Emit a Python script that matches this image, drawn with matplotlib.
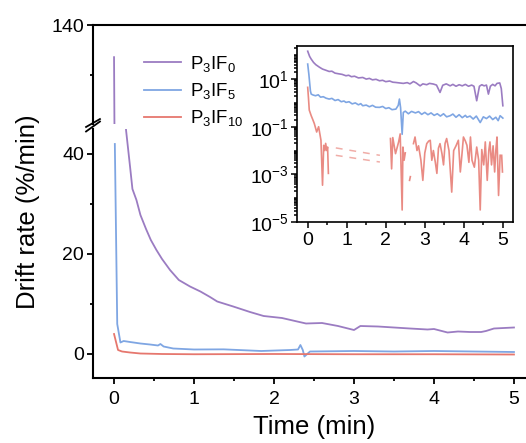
import matplotlib
matplotlib.use('Agg')
import matplotlib.pyplot as plt
import numpy as np
from matplotlib.ticker import MultipleLocator, LogLocator, NullFormatter, FixedLocator

plt.rcParams['font.family'] = ['Liberation Sans', 'DejaVu Sans']
plt.rcParams['mathtext.fontset'] = 'custom'
plt.rcParams['mathtext.rm'] = 'Liberation Sans'
plt.rcParams['mathtext.it'] = 'Liberation Sans:italic'
plt.rcParams['mathtext.default'] = 'regular'

labels = [r'P$_3$IF$_0$', r'P$_3$IF$_5$', r'P$_3$IF$_{10}$']
colors = ['#9b7cc2', '#7fa6e3', '#e6776e']

# main panel (linear, broken axis)
t_p0 = [0.0, 0.005, 0.15, 0.2, 0.23, 0.28, 0.33, 0.4, 0.46, 0.53, 0.6, 0.7, 0.81, 0.95, 1.08,
        1.2, 1.29, 1.49, 1.7, 1.87, 2.1, 2.29, 2.4, 2.6, 2.8, 3.0, 3.08, 3.3, 3.5, 3.7, 3.92,
        4.0, 4.17, 4.3, 4.45, 4.59, 4.65, 4.75, 5.0]
p0 = [127, 100, 44.8, 37.5, 33, 30.8, 27.8, 25.0, 22.8, 20.8, 19.0, 16.8, 14.8, 13.5, 12.5,
      11.4, 10.5, 9.5, 8.4, 7.6, 7.2, 6.5, 6.1, 6.2, 5.6, 4.8, 5.6, 5.5, 5.3, 5.1, 4.9,
      5.0, 4.3, 4.5, 4.4, 4.4, 4.6, 5.1, 5.3]
t_p5 = [0.01, 0.04, 0.08, 0.12, 0.2, 0.33, 0.45, 0.55, 0.58, 0.62, 0.74, 1.0, 1.37, 1.84, 2.2,
        2.3, 2.33, 2.36, 2.38, 2.45, 3.0, 3.5, 4.0, 4.5, 5.0]
p5 = [42, 6, 2.3, 2.6, 2.4, 2.1, 1.9, 1.7, 2.0, 1.5, 1.1, 0.9, 0.93, 0.6, 0.8,
      0.9, 1.8, 0.8, -0.5, 0.5, 0.6, 0.5, 0.6, 0.5, 0.4]
t_p10 = [0.0, 0.05, 0.1, 0.2, 0.33, 0.6, 1.0, 2.0, 3.0, 4.0, 5.0]
p10 = [4.0, 0.8, 0.5, 0.3, 0.1, 0.0, -0.05, 0.0, -0.05, -0.05, -0.1]

# inset (log scale)
in_t_p0 = [0.0, 0.05, 0.09, 0.15, 0.21, 0.3, 0.38, 0.45, 0.55, 0.62, 0.7, 0.8, 0.88, 0.98, 1.05,
           1.12, 1.2, 1.3, 1.41, 1.5, 1.58, 1.66, 1.75, 1.84, 1.92, 2.0, 2.1, 2.18, 2.26, 2.35,
           2.45, 2.55, 2.62, 2.71, 2.78, 2.88, 2.95, 3.05, 3.12, 3.22, 3.3, 3.39, 3.46, 3.55,
           3.65, 3.72, 3.8, 3.88, 3.96, 4.04, 4.12, 4.2, 4.26, 4.33, 4.4, 4.46, 4.52, 4.58,
           4.63, 4.68, 4.74, 4.8, 4.85, 4.92, 4.96, 5.0]
in_p0 = [148, 89, 69, 50, 40, 31.6, 26.3, 24, 20.9, 21.4, 17.8, 16.6, 15.8, 13.8, 14.5,
         12.6, 13.2, 11.2, 11.7, 10, 10.7, 9.3, 9.8, 8.5, 8.9, 7.8, 8.3, 7.4, 7.2, 6.9,
         6.6, 7.1, 6.3, 7.9, 6.9, 5.2, 6.3, 5.8, 6.6, 6.2, 5.6, 2.75, 5.5, 6.3,
         5.2, 6.0, 5.0, 5.8, 5.2, 6.0, 5.0, 5.6, 5.0, 1.23, 5.0, 5.8, 5.2, 5.6,
         2.34, 5.0, 6.0, 5.2, 6.6, 6.9, 4.0, 0.76]
in_t_p5 = [0.0, 0.03, 0.07, 0.09, 0.14, 0.2, 0.27, 0.33, 0.4, 0.47, 0.55, 0.62, 0.7, 0.78, 0.86,
           0.93, 0.98, 1.06, 1.14, 1.22, 1.3, 1.36, 1.41, 1.5, 1.58, 1.66, 1.74, 1.84, 1.92,
           2.0, 2.08, 2.16, 2.26, 2.32, 2.35, 2.38, 2.42, 2.45, 2.5, 2.58, 2.66, 2.76, 2.84,
           2.92, 3.0, 3.08, 3.16, 3.24, 3.32, 3.4, 3.48, 3.56, 3.65, 3.72, 3.8, 3.88, 3.96,
           4.04, 4.08, 4.16, 4.24, 4.32, 4.42, 4.5, 4.58, 4.66, 4.74, 4.82, 4.88, 4.93, 5.0]
in_p5 = [42.7, 15.8, 3.16, 2.34, 2.14, 2.0, 2.19, 1.74, 1.82, 1.58, 1.45, 1.55, 1.26, 1.38, 1.12,
         1.2, 1.05, 1.12, 0.91, 1.0, 0.83, 0.93, 0.76, 0.81, 0.69, 0.79, 0.66, 0.65, 0.71,
         0.58, 0.63, 0.52, 0.55, 0.79, 1.45, 0.63, 0.048, 0.4, 0.45, 0.35, 0.44, 0.38, 0.43,
         0.33, 0.4, 0.32, 0.38, 0.30, 0.35, 0.28, 0.35, 0.26, 0.29, 0.34, 0.25, 0.32, 0.24,
         0.30, 0.25, 0.28, 0.21, 0.28, 0.15, 0.26, 0.22, 0.28, 0.2, 0.25, 0.18, 0.29, 0.23]
# nan marks missing (non-positive) points
in_t_p10 = [0.0, 0.02, 0.04, 0.09, 0.13, 0.17, 0.23, 0.28, 0.34, 0.38, 0.41, 0.44, 0.46, 0.49,
            0.51, 0.53, 0.54,
            2.12, 2.15, 2.18, 2.25, 2.33, 2.37, 2.42, 2.44, 2.47, 2.5, 2.52,
            2.61, 2.63, 2.65,
            2.71, 2.75, 2.8, 2.84, 2.9, 2.95, 3.0, 3.05, 3.1, 3.14, 3.18, 3.22, 3.27, 3.31,
            3.35, 3.39, 3.44, 3.48, 3.52, 3.56, 3.62, 3.69, 3.74, 3.8, 3.86, 3.91, 3.95, 3.99,
            4.04, 4.08, 4.13, 4.17, 4.21, 4.27, 4.33, 4.38, 4.42, 4.46, 4.51, 4.55, 4.6, 4.64,
            4.67, 4.71, 4.75, 4.79, 4.82, 4.85, 4.89, 4.93, 4.95,
            4.97, 4.99]
in_p10 = [4.5, 1.6, 0.5, 0.29, 0.2, 0.135, 0.06, 0.1, 0.027, 3.5e-4, 0.0166, 0.01, 0.02, 0.01,
          0.014, 0.0011, np.nan,
          0.032, 0.0017, 0.035, 0.0074, 0.023, 0.05, 3.2e-5, 0.014, 0.0039, 0.008, np.nan,
          5.6e-4, 8e-4, np.nan,
          0.0195, 0.037, 0.01, 0.0158, 0.004, 5.6e-4, 0.0079, 0.0195, 0.025, 0.027, 0.0039, 0.01, 0.0032, 0.0011,
          0.0126, 0.0195, 0.0074, 0.0025, 0.02, 0.032, 0.01, 1.8e-4, 0.01, 0.0158, 0.027, 0.00126, 0.0063, 0.037,
          0.025, 0.0166, 0.0032, 0.037, 0.0039, 0.002, 0.014, 0.004, 3.2e-5, 0.011, 0.0025, 0.023, 5.6e-4, 0.01,
          0.023, 0.0025, 0.0158, 0.00126, 0.01, 0.037, 1.3e-4, 0.0063, np.nan,
          0.0063, 0.00126]
gap_t = [0.72, 1.85]
gap_hi = [0.0129, 0.0063]
gap_lo = [0.0063, 0.0033]

W, H = 526, 443
def box(x0, y0, x1, y1):
    return [x0 / W, 1 - y1 / H, (x1 - x0) / W, (y1 - y0) / H]

fig = plt.figure(figsize=(5.26, 4.43), dpi=100)
ax_top = fig.add_axes(box(93, 25, 527, 124))
ax_bot = fig.add_axes(box(93, 129, 527, 378))

lines = []
for ax in [ax_top, ax_bot]:
    l0, = ax.plot(t_p0, p0, color=colors[0], lw=1.3)
    l1, = ax.plot(t_p5, p5, color=colors[1], lw=1.3)
    l2, = ax.plot(t_p10, p10, color=colors[2], lw=1.3)
    lines = [l0, l1, l2]
    ax.set_xlim(-0.263, 5.163)
    for s in ax.spines.values():
        s.set_linewidth(1.5)
    ax.spines['right'].set_visible(False)
    ax.tick_params(which='both', direction='out', width=1.3, labelsize=14)
    ax.tick_params(which='major', length=4.5)
    ax.tick_params(which='minor', length=2.5)

ax_top.set_ylim(100, 140)
ax_top.set_yticks([140])
ax_top.yaxis.set_minor_locator(FixedLocator([120]))
ax_top.spines['bottom'].set_visible(False)
ax_top.tick_params(axis='x', which='both', bottom=False, labelbottom=False)
ax_top.tick_params(axis='y', pad=2)

ax_bot.set_ylim(-4.8, 45)
ax_bot.set_yticks([0, 20, 40])
ax_bot.yaxis.set_minor_locator(MultipleLocator(10))
ax_bot.set_xticks([0, 1, 2, 3, 4, 5])
ax_bot.xaxis.set_minor_locator(MultipleLocator(0.5))
ax_bot.spines['top'].set_visible(False)
ax_bot.tick_params(axis='y', pad=2)
ax_bot.tick_params(axis='x', pad=5)

# break marks on the left spine
kw = dict(color='black', lw=1.3, clip_on=False)
ax_top.plot([-0.016, 0.016], [-0.03, 0.05], transform=ax_top.transAxes, **kw)
ax_bot.plot([-0.016, 0.016], [0.99, 1.03], transform=ax_bot.transAxes, **kw)

ax_top.legend(lines, labels, loc='upper left', bbox_to_anchor=(144 / W, 1 - 54 / H),
              bbox_transform=fig.transFigure, frameon=False, fontsize=13.4,
              handlelength=2.0, handletextpad=0.45, labelspacing=0.38, borderpad=0,
              borderaxespad=0)

fig.text(28 / W, 1 - 212 / H, 'Drift rate (%/min)', rotation=90, ha='center', va='center',
         fontsize=18.5)
fig.text(314 / W, 1 - 427 / H, 'Time (min)', ha='center', va='center', fontsize=18.5)

# inset
ax_in = fig.add_axes(box(297, 46, 513, 222))
ax_in.plot(in_t_p0, in_p0, color=colors[0], lw=1.2)
ax_in.plot(in_t_p5, in_p5, color=colors[1], lw=1.2)
ax_in.plot(in_t_p10, in_p10, color=colors[2], lw=1.2, alpha=0.85)
ax_in.plot(gap_t, gap_hi, color=colors[2], lw=1.1, alpha=0.6, ls=(0, (4.5, 4.5)))
ax_in.plot(gap_t, gap_lo, color=colors[2], lw=1.1, alpha=0.6, ls=(0, (4.5, 4.5)))
ax_in.set_yscale('log')
ax_in.set_ylim(1e-5, 245)
ax_in.set_xlim(-0.274, 5.26)
ax_in.set_yticks([1e-5, 1e-3, 1e-1, 1e1])
ax_in.yaxis.set_minor_locator(LogLocator(base=10, subs='all', numticks=30))
ax_in.yaxis.set_minor_formatter(NullFormatter())
ax_in.set_xticks([0, 1, 2, 3, 4, 5])
ax_in.xaxis.set_minor_locator(MultipleLocator(0.5))
for s in ax_in.spines.values():
    s.set_linewidth(1.2)
ax_in.tick_params(which='both', direction='out', width=1.1, labelsize=14)
ax_in.tick_params(which='major', length=4)
ax_in.tick_params(which='minor', length=2)
ax_in.tick_params(axis='y', pad=2)
ax_in.tick_params(axis='x', pad=3)

fig.savefig('out.png', dpi=100)
